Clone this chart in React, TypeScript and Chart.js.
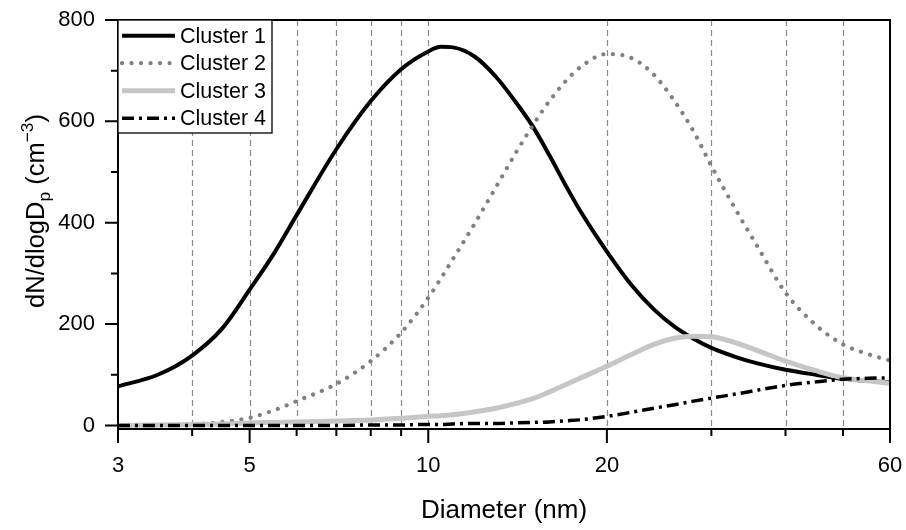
import React, { useEffect, useRef } from 'react';
import { Chart, registerables } from 'chart.js';

Chart.register(...registerables);

const FONT = '"Liberation Sans", Arial, sans-serif';

// Diameters (nm) at which the curves were read
const diameters = [3, 3.5, 4, 4.5, 5, 5.5, 6, 7, 8, 9, 10, 10.5, 11, 12, 13, 14, 15, 16, 17, 18, 20, 22, 24, 26, 28, 30, 33, 36, 40, 45, 50, 55, 60];

const cluster1 = [77, 100, 138, 192, 268, 340, 415, 545, 640, 703, 738, 747, 746, 727, 688, 640, 590, 533, 476, 425, 343, 277, 229, 195, 171, 153, 135, 122, 110, 100, 92, 88, 85];
const cluster2 = [0, 0.5, 2, 7, 15, 30, 48, 82, 127, 183, 252, 290, 328, 400, 470, 535, 592, 640, 678, 706, 733, 725, 692, 640, 580, 512, 425, 350, 262, 198, 160, 141, 128];
const cluster3 = [0, 1, 2, 3, 5, 6, 7, 9, 11, 14, 18, 19, 21, 27, 34, 43, 53, 66, 80, 93, 117, 140, 160, 172, 176, 175, 163, 147, 127, 108, 94, 88, 83];
const cluster4 = [0, 0, 0, 0, 0, 0, 0, 0, 1, 1, 2, 2, 3, 4, 4, 5, 6, 7, 9, 11, 18, 26, 34, 41, 48, 54, 62, 70, 79, 86, 91, 93, 94];

const seriesLabels = ['Cluster 1', 'Cluster 2', 'Cluster 3', 'Cluster 4'];

const xMajorTicks = [3, 5, 10, 20, 60];
const xMinorTicks = [4, 6, 7, 8, 9, 30, 40, 50];
const xGridLines = [4, 5, 6, 7, 8, 9, 10, 20, 30, 40, 50];
const yMajorTicks = [0, 200, 400, 600, 800];
const yMinorTicks = [100, 300, 500, 700];

const styles = [
  { borderColor: '#000000', borderWidth: 4, borderDash: [] as number[], borderCapStyle: 'butt', order: 4 },
  { borderColor: '#808080', borderWidth: 4.2, borderDash: [0.01, 9.5], borderCapStyle: 'round', order: 3 },
  { borderColor: '#c6c6c6', borderWidth: 5, borderDash: [] as number[], borderCapStyle: 'butt', order: 2 },
  { borderColor: '#000000', borderWidth: 3.5, borderDash: [12, 5, 3, 5], borderCapStyle: 'butt', order: 1 },
];

function drawRich(ctx: CanvasRenderingContext2D, parts: { t: string; s: number; dy: number }[], size: number, x: number, y: number, align: 'center' | 'left') {
  let total = 0;
  for (const p of parts) {
    ctx.font = `${size * p.s}px ${FONT}`;
    total += ctx.measureText(p.t).width;
  }
  let cx = align === 'center' ? x - total / 2 : x;
  for (const p of parts) {
    ctx.font = `${size * p.s}px ${FONT}`;
    ctx.fillText(p.t, cx, y + p.dy * size);
    cx += ctx.measureText(p.t).width;
  }
}

const decorPlugin = {
  id: 'decor',
  beforeDatasetsDraw(chart: any) {
    const { ctx, chartArea: a, scales } = chart;
    const xs = scales.x;
    ctx.save();
    ctx.strokeStyle = '#8a8a8a';
    ctx.lineWidth = 1.2;
    ctx.setLineDash([6, 4]);
    for (const v of xGridLines) {
      const px = Math.round(xs.getPixelForValue(v)) + 0.5;
      ctx.beginPath();
      ctx.moveTo(px, a.top);
      ctx.lineTo(px, a.bottom);
      ctx.stroke();
    }
    ctx.restore();
  },
  afterDatasetsDraw(chart: any) {
    const { ctx, chartArea: a, scales } = chart;
    const xs = scales.x;
    const ys = scales.y;
    ctx.save();
    ctx.setLineDash([]);
    ctx.strokeStyle = '#000';
    ctx.lineWidth = 2;
    ctx.strokeRect(a.left, a.top, a.right - a.left, a.bottom - a.top);
    // ticks
    ctx.beginPath();
    for (const v of yMajorTicks) {
      const py = ys.getPixelForValue(v);
      ctx.moveTo(a.left, py);
      ctx.lineTo(a.left - 13, py);
    }
    for (const v of yMinorTicks) {
      const py = ys.getPixelForValue(v);
      ctx.moveTo(a.left, py);
      ctx.lineTo(a.left - 7, py);
    }
    for (const v of xMajorTicks) {
      const px = xs.getPixelForValue(v);
      ctx.moveTo(px, a.bottom);
      ctx.lineTo(px, a.bottom + 14);
    }
    for (const v of xMinorTicks) {
      const px = xs.getPixelForValue(v);
      ctx.moveTo(px, a.bottom);
      ctx.lineTo(px, a.bottom + 7);
    }
    ctx.stroke();

    // legend
    const lx = a.left, ly = a.top, lw = 154, lh = 113;
    ctx.fillStyle = '#fff';
    ctx.fillRect(lx, ly, lw, lh);
    ctx.lineWidth = 1.3;
    ctx.strokeStyle = '#000';
    ctx.strokeRect(lx, ly, lw, lh);
    chart.data.datasets.forEach((ds: any, i: number) => {
      const cy = ly + 15.7 + i * 27.5;
      ctx.save();
      ctx.strokeStyle = ds.borderColor;
      ctx.lineWidth = ds.borderWidth;
      ctx.setLineDash(ds.borderDash || []);
      ctx.lineCap = ds.borderCapStyle;
      ctx.beginPath();
      ctx.moveTo(lx + 4, cy);
      ctx.lineTo(lx + 57, cy);
      ctx.stroke();
      ctx.restore();
      ctx.fillStyle = '#000';
      ctx.font = `21.5px ${FONT}`;
      ctx.textBaseline = 'middle';
      ctx.textAlign = 'left';
      ctx.fillText(ds.label, lx + 62, cy + 1);
    });

    // axis titles
    ctx.fillStyle = '#000';
    ctx.textBaseline = 'alphabetic';
    ctx.textAlign = 'left';
    drawRich(ctx, [{ t: 'Diameter (nm)', s: 1, dy: 0 }], 26, (a.left + a.right) / 2, 518, 'center');
    ctx.save();
    ctx.translate(44, 211);
    ctx.rotate(-Math.PI / 2);
    drawRich(ctx, [
      { t: 'dN/dlogD', s: 1, dy: 0 },
      { t: 'p', s: 0.68, dy: 0.22 },
      { t: ' (cm', s: 1, dy: 0 },
      { t: '\u22123', s: 0.68, dy: -0.42 },
      { t: ')', s: 1, dy: 0 },
    ], 25.5, 0, 0, 'center');
    ctx.restore();
    ctx.restore();
  },
};

export default function App() {
  const ref = useRef<HTMLCanvasElement>(null);
  useEffect(() => {
    const canvas = ref.current!;
    const series = [cluster1, cluster2, cluster3, cluster4];
    const chart = new Chart(canvas, {
      type: 'line',
      data: {
        datasets: series.map((vals, i) => ({
          label: seriesLabels[i],
          data: diameters.map((d, j) => ({ x: d, y: vals[j] })),
          pointRadius: 0,
          fill: false,
          cubicInterpolationMode: 'monotone',
          ...styles[i],
        })) as any,
      },
      options: {
        responsive: false,
        animation: false,
        events: [],
        layout: { padding: { left: 0, right: 16, top: 20, bottom: 0 } },
        plugins: { legend: { display: false }, tooltip: { enabled: false } },
        scales: {
          x: {
            type: 'logarithmic',
            min: 3,
            max: 60,
            afterBuildTicks: (s: any) => {
              s.ticks = [...xMajorTicks, ...xMinorTicks].sort((p, q) => p - q).map((v) => ({ value: v }));
            },
            afterFit: (s: any) => {
              s.height = 101;
              s.paddingLeft = 0;
              s.paddingRight = 0;
              s.paddingTop = 0;
              s.paddingBottom = 0;
            },
            grid: { display: false, drawTicks: false },
            border: { display: false },
            ticks: {
              autoSkip: false,
              maxRotation: 0,
              minRotation: 0,
              padding: 24,
              color: '#000',
              font: { family: FONT, size: 22 },
              callback: (v: any) => (xMajorTicks.includes(Number(v)) ? String(v) : ''),
            },
          },
          y: {
            type: 'linear',
            min: -7,
            max: 800,
            afterBuildTicks: (s: any) => {
              s.ticks = [...yMajorTicks, ...yMinorTicks].sort((p, q) => p - q).map((v) => ({ value: v }));
            },
            afterFit: (s: any) => {
              s.width = 118;
              s.paddingLeft = 0;
              s.paddingRight = 0;
              s.paddingTop = 0;
              s.paddingBottom = 0;
            },
            grid: { display: false, drawTicks: false },
            border: { display: false },
            ticks: {
              padding: 23,
              color: '#000',
              font: { family: FONT, size: 22 },
              callback: (v: any) => (yMajorTicks.includes(Number(v)) ? String(v) : ''),
            },
          },
        },
      } as any,
      plugins: [decorPlugin as any],
    });
    return () => chart.destroy();
  }, []);
  return (
    <div style={{ position: 'fixed', left: 0, top: 0, width: 906, height: 530, background: '#fff' }}>
      <canvas ref={ref} width={906} height={530} style={{ display: 'block' }} />
    </div>
  );
}
